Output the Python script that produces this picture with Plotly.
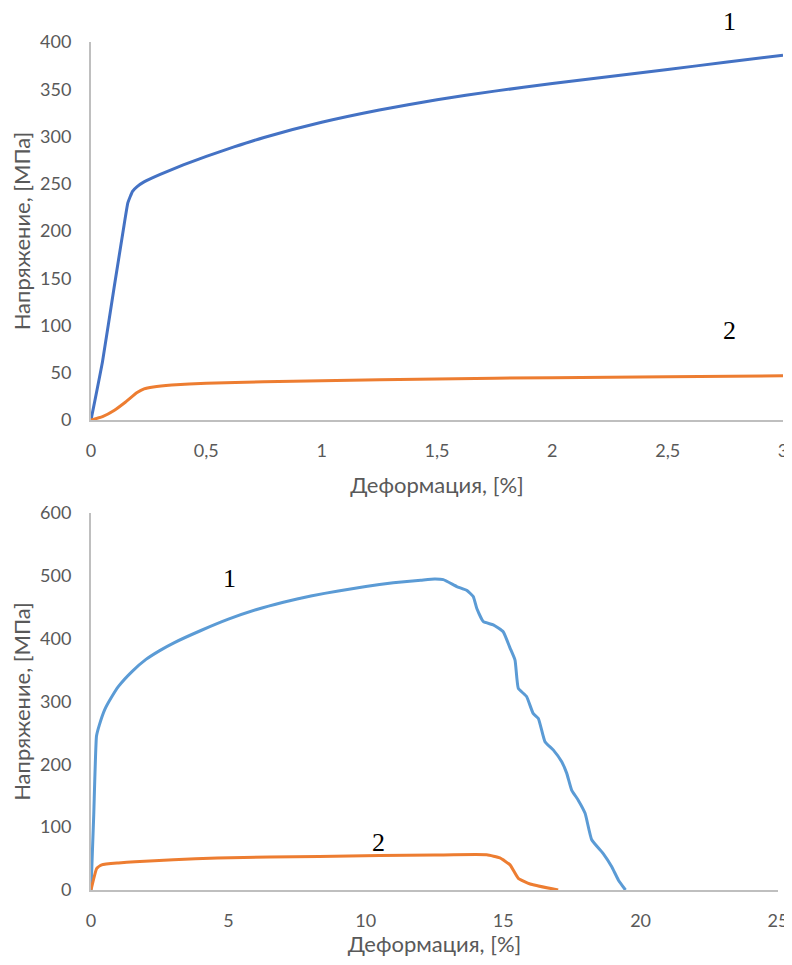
import plotly.graph_objects as go

# ---- Top chart (0..3 %) ----
top1_x = [0, 0.05, 0.1, 0.14, 0.16, 0.18, 0.2, 0.23, 0.3, 0.4, 0.5, 0.62, 0.75, 1.0, 1.25, 1.5, 1.75, 2.0, 2.25, 2.5, 2.75, 3.0]
top1_y = [0, 62, 140, 201, 230, 242, 247, 252, 260, 270, 279, 289, 299, 315, 328, 339, 348, 356, 363.5, 371, 378.5, 386]
top2_x = [0, 0.05, 0.1, 0.15, 0.2, 0.23, 0.27, 0.35, 0.5, 0.75, 1.0, 1.5, 2.0, 2.5, 3.0]
top2_y = [0, 3.5, 10, 19, 29, 33, 35, 37, 38.8, 40.5, 41.6, 43.5, 44.8, 45.8, 46.8]

# ---- Bottom chart (0..25 %) ----
bot1_x = [0, 0.1, 0.2, 0.3, 0.5, 0.75, 1, 1.5, 2, 2.5, 3, 4, 5, 6, 7, 8, 9, 10, 11, 12, 12.5,
          12.82, 13.31, 13.67, 13.91, 14.04, 14.28, 14.64, 15.0, 15.25, 15.43, 15.55, 15.85, 16.09,
          16.28, 16.52, 16.82, 17.13, 17.31, 17.49, 17.73, 17.98, 18.22, 18.64, 18.95, 19.19, 19.45]
bot1_y = [0, 120, 245, 262, 287, 307, 324, 348, 367, 381, 393, 413, 431, 446, 458, 468, 476, 483, 489, 493, 495,
          494, 483, 477, 467, 448, 427, 422, 411, 385, 366, 321, 308, 281,
          273, 236, 223, 204, 186, 159, 143, 122, 80, 58, 37, 16, 0]
bot2_x = [0, 0.21, 0.39, 1.0, 1.6, 3, 4.6, 6.5, 8.3, 10.5, 12.5, 14.4, 14.88, 15.25, 15.55, 15.98, 17.0]
bot2_y = [0, 34.5, 40, 43, 45, 48, 51, 52.5, 53.5, 55, 55.7, 56, 51, 40, 18.6, 9.5, 0]

top_xticks = [0, 0.5, 1, 1.5, 2, 2.5, 3]
top_yticks = [0, 50, 100, 150, 200, 250, 300, 350, 400]
bot_xticks = [0, 5, 10, 15, 20, 25]
bot_yticks = [0, 100, 200, 300, 400, 500, 600]

x_title = "Деформация, [%]"
y_title = "Напряжение, [МПа]"

fig = go.Figure()
fig.add_trace(go.Scatter(x=top1_x, y=top1_y, mode="lines", line=dict(color="#4472C4", width=3, shape="spline", smoothing=0.4), xaxis="x", yaxis="y", cliponaxis=False))
fig.add_trace(go.Scatter(x=top2_x, y=top2_y, mode="lines", line=dict(color="#ED7D31", width=3, shape="spline", smoothing=0.4), xaxis="x", yaxis="y", cliponaxis=False))
fig.add_trace(go.Scatter(x=bot1_x, y=bot1_y, mode="lines", line=dict(color="#5B9BD5", width=3, shape="spline", smoothing=0.4), xaxis="x2", yaxis="y2", cliponaxis=False))
fig.add_trace(go.Scatter(x=bot2_x, y=bot2_y, mode="lines", line=dict(color="#ED7D31", width=3, shape="spline", smoothing=0.4), xaxis="x2", yaxis="y2", cliponaxis=False))

tickfont = dict(family="Lato, Liberation Sans, sans-serif", size=18, color="#595959")
titlefont = dict(family="Lato, Liberation Sans, sans-serif", size=22, color="#595959")
axline = dict(showline=True, linecolor="#BFBFBF", linewidth=2, showgrid=False, zeroline=False,
              ticks="", tickfont=tickfont, automargin=False, ticklabeloverflow="allow")

# page body has an 8px margin: figure coords = screen coords - 8
W, H = 784, 949
fig.update_layout(
    width=W, height=H,
    margin=dict(l=0, r=0, t=0, b=0, autoexpand=False),
    paper_bgcolor="white", plot_bgcolor="white",
    showlegend=False,
    separators=", ",
    xaxis=dict(domain=[83 / W, 775 / W], range=[0, 3], tickvals=top_xticks, anchor="y",
               ticklabelstandoff=13, title=dict(text=x_title, font=titlefont, standoff=18), **axline),
    yaxis=dict(domain=[1 - 412 / H, 1 - 34 / H], range=[0, 400], tickvals=top_yticks, anchor="x",
               ticklabelstandoff=14, title=dict(text=y_title, font=titlefont, standoff=8), **axline),
    xaxis2=dict(domain=[83 / W, 770 / W], range=[0, 25], tickvals=bot_xticks, anchor="y2",
                ticklabelstandoff=13, title=dict(text=x_title, font=titlefont, standoff=20), **axline),
    yaxis2=dict(domain=[1 - 882 / H, 1 - 505 / H], range=[0, 600], tickvals=bot_yticks, anchor="x2",
                ticklabelstandoff=14, title=dict(text=y_title, font=titlefont, standoff=8), **axline),
)

labfont = dict(family="Liberation Serif, serif", size=26, color="black")
fig.add_annotation(x=2.77, y=1.053, xref="x", yref="y domain", text="1", showarrow=False, font=labfont, yanchor="middle")
fig.add_annotation(x=2.77, y=95, xref="x", yref="y", text="2", showarrow=False, font=labfont, yanchor="middle")
fig.add_annotation(x=5.05, y=495, xref="x2", yref="y2", text="1", showarrow=False, font=labfont, yanchor="middle")
fig.add_annotation(x=10.45, y=75, xref="x2", yref="y2", text="2", showarrow=False, font=labfont, yanchor="middle")

fig.write_html("out.html")
